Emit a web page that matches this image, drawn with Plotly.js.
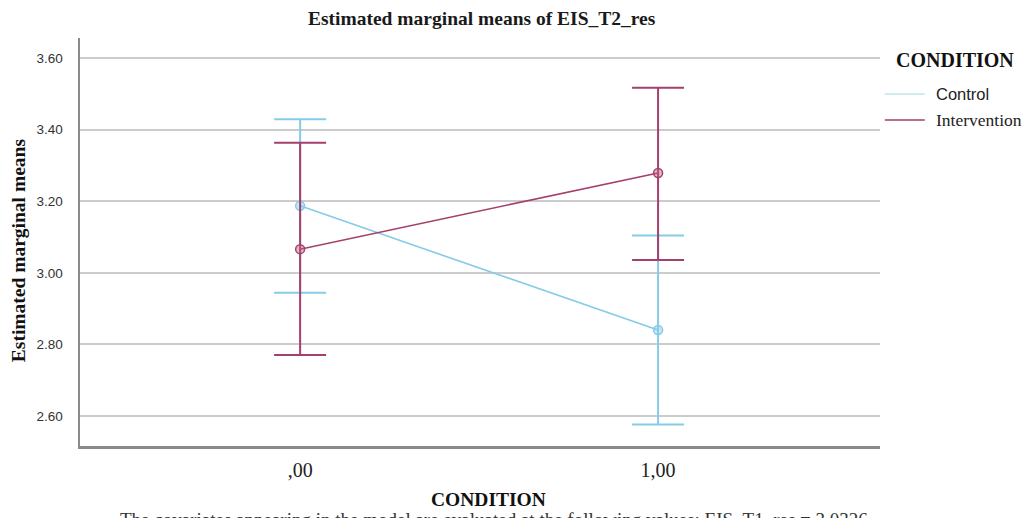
<!DOCTYPE html>
<html>
<head>
<meta charset="utf-8">
<script src="https://cdn.plot.ly/plotly-3.0.1.min.js"></script>
<style>html,body{margin:0;padding:0;background:#fff;}#chart{width:1027px;height:518px;}</style>
</head>
<body>
<div id="chart"></div>
<script>
// Data
const conditionX = [0, 1];
const conditionLabels = [",00", "1,00"];
const controlMeans = [3.187, 2.840];
const controlErrPlus = [0.242, 0.264];
const controlErrMinus = [0.243, 0.264];
const interventionMeans = [3.066, 3.279];
const interventionErrPlus = [0.297, 0.238];
const interventionErrMinus = [0.296, 0.243];
const yTicks = [2.6, 2.8, 3.0, 3.2, 3.4, 3.6];
const seriesNames = ["Control", "Intervention"];

const cControl = "#86cbe8";
const cInterv = "#a3416c";

const traces = [
  {
    x: conditionX, y: controlMeans, type: "scatter", mode: "lines+markers",
    name: seriesNames[0], showlegend: false,
    line: {color: cControl, width: 1.6},
    marker: {symbol: "circle", size: 9, color: "rgba(134,203,232,0.45)", line: {color: cControl, width: 1.5}},
    error_y: {type: "data", symmetric: false, array: controlErrPlus, arrayminus: controlErrMinus,
              color: cControl, thickness: 2, width: 26}
  },
  {
    x: conditionX, y: interventionMeans, type: "scatter", mode: "lines+markers",
    name: seriesNames[1], showlegend: false,
    line: {color: cInterv, width: 1.6},
    marker: {symbol: "circle", size: 9, color: "rgba(200,90,130,0.45)", line: {color: cInterv, width: 1.5}},
    error_y: {type: "data", symmetric: false, array: interventionErrPlus, arrayminus: interventionErrMinus,
              color: cInterv, thickness: 2, width: 26}
  }
];

const serif = "Liberation Serif, Times New Roman, serif";
const sans = "Liberation Sans, Arial, sans-serif";

const layout = {
  width: 1027, height: 518,
  margin: {l: 80, r: 147, t: 38, b: 72},
  paper_bgcolor: "#fff", plot_bgcolor: "#fff",
  showlegend: false,
  title: {text: "<b>Estimated marginal means of EIS_T2_res</b>", x: 0.469, xanchor: "center", y: 0.965, yanchor: "middle",
          font: {family: serif, size: 19.5, color: "#1a1a1a"}},
  xaxis: {
    range: [-0.615, 1.62], tickvals: conditionX, ticktext: conditionLabels,
    showgrid: false, zeroline: false, showline: true, linecolor: "#8a8a8a", linewidth: 2.5,
    ticks: "", tickfont: {family: serif, size: 20, color: "#222"}, ticklabelstandoff: 4
  },
  yaxis: {
    range: [2.516, 3.656], tickvals: yTicks, tickformat: ".2f",
    showgrid: true, gridcolor: "#cccccc", gridwidth: 1.8, zeroline: false,
    showline: true, linecolor: "#8a8a8a", linewidth: 2.5,
    ticks: "", tickfont: {family: sans, size: 13.5, color: "#333"}, ticklabelstandoff: 12
  },
  annotations: [
    {text: "<b>Estimated marginal means</b>", xref: "paper", yref: "paper", x: -0.0775, y: 0.48,
     textangle: -90, showarrow: false, xanchor: "center", yanchor: "middle",
     font: {family: serif, size: 19.5, color: "#111"}},
    {text: "<b>CONDITION</b>", xref: "paper", yref: "paper", x: 0.511, y: -0.132,
     showarrow: false, xanchor: "center", yanchor: "middle",
     font: {family: serif, size: 19.5, color: "#111"}},
    {text: "The covariates appearing in the model are evaluated at the following values: EIS_T1_res = 3.0326",
     xref: "paper", yref: "paper", x: 0.518, y: -0.149, showarrow: false, xanchor: "center", yanchor: "top",
     font: {family: serif, size: 19, color: "#333"}},
    {text: "<b>CONDITION</b>", xref: "paper", yref: "paper", x: 1.018, y: (446-60)/408,
     showarrow: false, xanchor: "left", yanchor: "middle",
     font: {family: serif, size: 20, color: "#111"}},
    {text: seriesNames[0], xref: "paper", yref: "paper", x: 1.067, y: (446-94)/408,
     showarrow: false, xanchor: "left", yanchor: "middle",
     font: {family: sans, size: 16.5, color: "#222"}},
    {text: seriesNames[1], xref: "paper", yref: "paper", x: 1.067, y: (446-120)/408,
     showarrow: false, xanchor: "left", yanchor: "middle",
     font: {family: serif, size: 17.5, color: "#222"}}
  ],
  shapes: [
    {type: "line", xref: "paper", yref: "paper", x0: 1.006, x1: 1.056, y0: (446-94)/408, y1: (446-94)/408,
     line: {color: "#bfe6ea", width: 1.5}},
    {type: "line", xref: "paper", yref: "paper", x0: 1.006, x1: 1.056, y0: (446-120)/408, y1: (446-120)/408,
     line: {color: cInterv, width: 1.5}}
  ]
};

Plotly.newPlot("chart", traces, layout, {displayModeBar: false, staticPlot: true});
</script>
</body>
</html>
